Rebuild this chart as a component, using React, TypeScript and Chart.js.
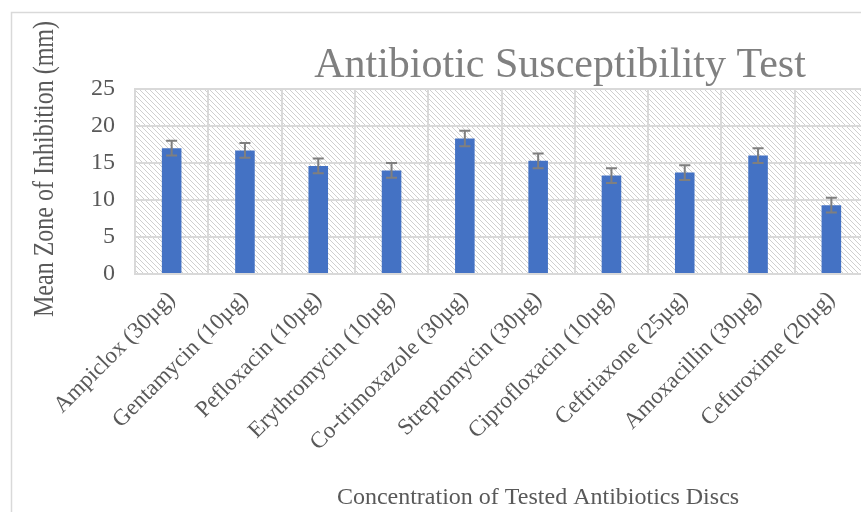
import { useEffect, useRef } from "react";
import { Chart, registerables } from "chart.js";
Chart.register(...registerables);

const categories = [
  "Ampiclox (30µg)",
  "Gentamycin (10µg)",
  "Pefloxacin (10µg)",
  "Erythromycin (10µg)",
  "Co-trimoxazole (30µg)",
  "Streptomycin (30µg)",
  "Ciprofloxacin (10µg)",
  "Ceftriaxone (25µg)",
  "Amoxacillin (30µg)",
  "Cefuroxime (20µg)",
];
const meanZone = [17.0, 16.7, 14.6, 14.0, 18.3, 15.3, 13.3, 13.7, 16.0, 9.3];
const errorValues = [1.0, 1.0, 1.0, 1.0, 1.05, 1.0, 1.0, 1.0, 1.0, 1.0];
const yMin = 0;
const yMax = 25;
const yStep = 5;

const chartTitle = "Antibiotic Susceptibility Test";
const xTitle = "Concentration of Tested Antibiotics Discs";
const yTitle = "Mean Zone of Inhibition (mm)";

const SERIF = "'Liberation Serif', 'Times New Roman', serif";

export default function App() {
  const ref = useRef<HTMLCanvasElement | null>(null);

  useEffect(() => {
    const canvas = ref.current;
    if (!canvas) return;

    const pat = document.createElement("canvas");
    pat.width = 5;
    pat.height = 5;
    const pc = pat.getContext("2d")!;
    pc.fillStyle = "#ffffff";
    pc.fillRect(0, 0, 5, 5);
    pc.strokeStyle = "#cfcfcf";
    pc.lineWidth = 1;
    pc.beginPath();
    pc.moveTo(0, 0);
    pc.lineTo(5, 5);
    pc.moveTo(-1, 4);
    pc.lineTo(1, 6);
    pc.moveTo(4, -1);
    pc.lineTo(6, 1);
    pc.stroke();

    const background = {
      id: "bgHatch",
      beforeDraw(chart: any) {
        const { ctx, chartArea } = chart;
        ctx.save();
        ctx.fillStyle = "#ffffff";
        ctx.fillRect(0, 0, chart.width, chart.height);
        ctx.strokeStyle = "#d9d9d9";
        ctx.lineWidth = 1.5;
        ctx.strokeRect(11.5, 12.5, chart.width + 20, chart.height + 20);
        const pattern = ctx.createPattern(pat, "repeat");
        ctx.fillStyle = pattern;
        ctx.fillRect(
          chartArea.left,
          chartArea.top,
          chartArea.right - chartArea.left,
          chartArea.bottom - chartArea.top
        );
        ctx.restore();
      },
    };

    const errorBars = {
      id: "errorBars",
      afterDatasetsDraw(chart: any) {
        const { ctx } = chart;
        const meta = chart.getDatasetMeta(0);
        const y = chart.scales.y;
        ctx.save();
        ctx.strokeStyle = "#7f7f7f";
        ctx.lineWidth = 2;
        meta.data.forEach((bar: any, i: number) => {
          const v = meanZone[i];
          const e = errorValues[i];
          const x = bar.x;
          const yt = y.getPixelForValue(v + e);
          const yb = y.getPixelForValue(v - e);
          ctx.beginPath();
          ctx.moveTo(x, yt);
          ctx.lineTo(x, yb);
          ctx.moveTo(x - 5.5, yt);
          ctx.lineTo(x + 5.5, yt);
          ctx.moveTo(x - 5.5, yb);
          ctx.lineTo(x + 5.5, yb);
          ctx.stroke();
        });
        ctx.restore();
      },
    };

    const titles = {
      id: "titles",
      afterDraw(chart: any) {
        const { ctx, chartArea } = chart;
        ctx.save();
        ctx.fillStyle = "#808080";
        ctx.font = `42px ${SERIF}`;
        ctx.textAlign = "center";
        ctx.textBaseline = "alphabetic";
        ctx.fillText(chartTitle, chartArea.left + 425, chartArea.top - 12);

        ctx.fillStyle = "#595959";
        ctx.font = `24px ${SERIF}`;
        ctx.fillText(xTitle, chartArea.left + 403, chart.height - 8);

        ctx.translate(chartArea.left - 82, chartArea.top + 80);
        ctx.rotate(-Math.PI / 2);
        ctx.scale(1, 1.25);
        ctx.textBaseline = "alphabetic";
        ctx.fillText(yTitle, 0, 0);
        ctx.restore();
      },
    };

    const chart = new Chart(canvas, {
      type: "bar",
      data: {
        labels: categories,
        datasets: [
          {
            data: meanZone,
            backgroundColor: "#4472C4",
            borderWidth: 0,
            categoryPercentage: 1,
            barPercentage: 0.267,
          },
        ],
      },
      options: {
        responsive: false,
        animation: false,
        devicePixelRatio: 1,
        layout: { padding: { top: 89, right: 12, left: 0, bottom: 0 } },
        plugins: {
          legend: { display: false },
          title: { display: false },
          tooltip: { enabled: false },
        },
        scales: {
          x: {
            grid: {
              color: "#d9d9d9",
              lineWidth: 2,
              drawTicks: false,
              offset: true,
            },
            border: { color: "#d9d9d9", width: 2 },
            ticks: {
              autoSkip: false,
              maxRotation: 45,
              minRotation: 45,
              padding: 12,
              color: "#595959",
              font: { family: SERIF, size: 23 },
            },
            afterFit(scale: any) {
              scale.height = 238;
            },
          },
          y: {
            min: yMin,
            max: yMax,
            grid: { color: "#d9d9d9", lineWidth: 2, drawTicks: false },
            border: { display: true, color: "#d9d9d9", width: 2 },
            ticks: {
              stepSize: yStep,
              padding: 20,
              color: "#595959",
              font: { family: SERIF, size: 24 },
            },
            afterFit(scale: any) {
              scale.width = 135;
            },
          },
        },
      },
      plugins: [background, errorBars, titles],
    });

    return () => chart.destroy();
  }, []);

  return (
    <div
      style={{
        position: "fixed",
        left: 0,
        top: 0,
        width: 861,
        height: 512,
        overflow: "hidden",
        background: "#fff",
      }}
    >
      <canvas ref={ref} width={880} height={512} style={{ display: "block" }} />
    </div>
  );
}
